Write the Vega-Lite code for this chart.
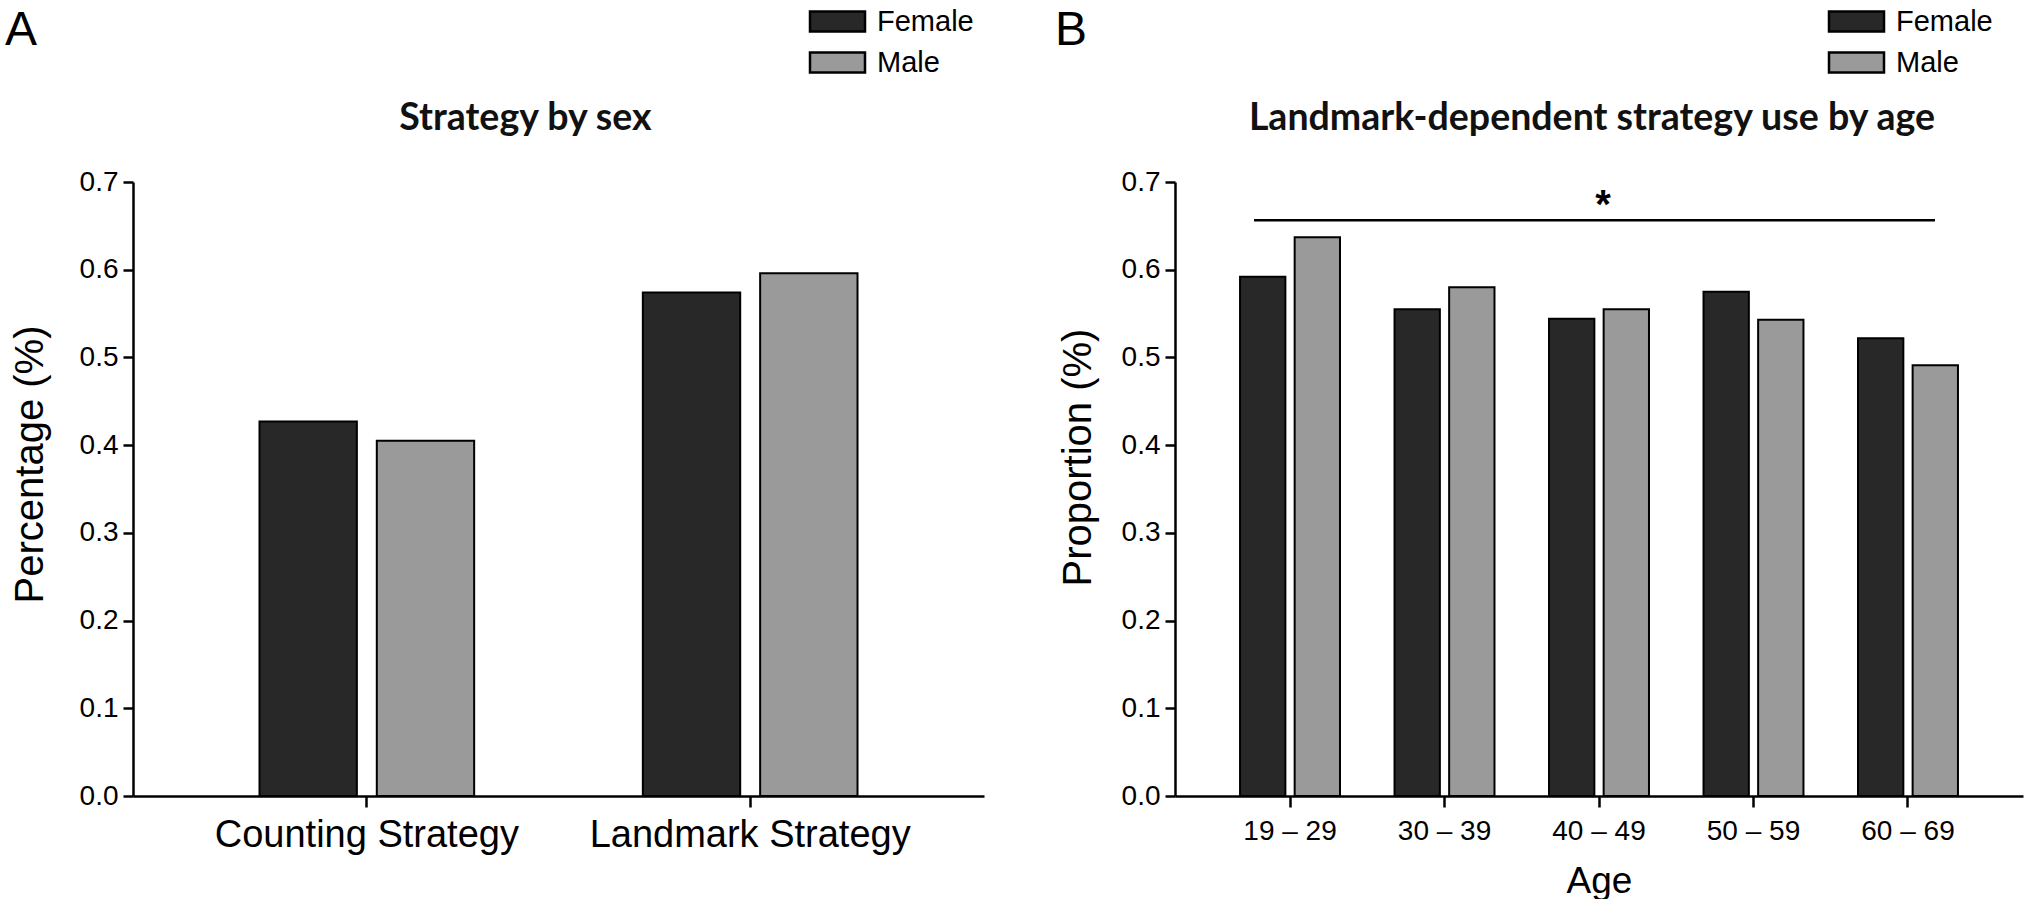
{
  "$schema": "https://vega.github.io/schema/vega-lite/v6.json",
  "padding": {"left": 5, "top": 7, "right": 6, "bottom": 0},
  "autosize": {"type": "pad"},
  "bounds": "flush",
  "spacing": 191,
  "background": "white",
  "config": {
    "view": {"stroke": null},
    "font": "Liberation Sans",
    "axis": {
      "grid": false,
      "domainColor": "black",
      "domainWidth": 2.5,
      "tickColor": "black",
      "tickWidth": 2.5,
      "labelColor": "black",
      "titleColor": "black",
      "labelFont": "Liberation Sans",
      "titleFont": "Liberation Sans",
      "titleFontWeight": "normal",
      "labelLimit": 0
    },
    "legend": {
      "symbolType": "M-2.75,-1L2.75,-1L2.75,1L-2.75,1Z",
      "symbolSize": 400,
      "symbolOffset": 13,
      "labelOffset": 25,
      "labelFont": "Liberation Sans",
      "labelFontSize": 29,
      "labelColor": "black",
      "labelLimit": 0,
      "titleFont": "Liberation Sans",
      "titleFontSize": 48,
      "titleFontWeight": "normal",
      "titleColor": "black",
      "titleBaseline": "top",
      "titleAnchor": "start",
      "titleLimit": 0,
      "symbolStrokeColor": "black",
      "symbolStrokeWidth": 2.5,
      "symbolOpacity": 1,
      "rowPadding": 10,
      "padding": 0,
      "direction": "vertical"
    },
    "title": {
      "font": "Lato",
      "fontSize": 37.5,
      "fontWeight": "bold",
      "color": "#111111",
      "anchor": "middle",
      "frame": "group",
      "baseline": "alphabetic",
      "offset": -130
    }
  },
  "resolve": {
    "scale": {"color": "independent", "x": "independent", "y": "independent", "xOffset": "independent"},
    "legend": {"color": "independent"}
  },
  "hconcat": [
    {
      "width": 851,
      "height": 614,
      "title": {"text": "Strategy by sex", "dx": -33},
      "data": {
        "values": [
          {"strategy": "Counting Strategy", "sex": "Female", "value": 0.427},
          {"strategy": "Counting Strategy", "sex": "Male", "value": 0.405},
          {"strategy": "Landmark Strategy", "sex": "Female", "value": 0.574},
          {"strategy": "Landmark Strategy", "sex": "Male", "value": 0.596}
        ]
      },
      "mark": {"type": "bar", "stroke": "black", "strokeWidth": 2},
      "encoding": {
        "x": {
          "field": "strategy",
          "type": "nominal",
          "title": null,
          "scale": {"domain": ["Counting Strategy", "Landmark Strategy"], "paddingInner": 0.44, "paddingOuter": 0.33},
          "axis": {"labelAngle": 0, "labelFontSize": 38, "tickSize": 11, "labelPadding": 9}
        },
        "xOffset": {
          "field": "sex",
          "type": "nominal",
          "scale": {"domain": ["Female", "Male"], "paddingInner": 0.17, "paddingOuter": 0}
        },
        "y": {
          "field": "value",
          "type": "quantitative",
          "title": "Percentage (%)",
          "scale": {"domain": [0, 0.7], "nice": false},
          "axis": {
            "values": [0, 0.1, 0.2, 0.3, 0.4, 0.5, 0.6, 0.7],
            "format": ".1f",
            "labelFontSize": 28,
            "tickSize": 10,
            "labelPadding": 5,
            "titleFontSize": 40,
            "titleAngle": -90,
            "titleX": -91,
            "titleY": 282,
            "titleAlign": "center",
            "titleBaseline": "alphabetic"
          }
        },
        "color": {
          "field": "sex",
          "type": "nominal",
          "scale": {"domain": ["Female", "Male"], "range": ["#282828", "#9a9a9a"]},
          "legend": {
            "title": "A",
            "orient": "none",
            "legendX": -128,
            "legendY": -175,
            "titleOrient": "left",
            "titlePadding": 772
          }
        }
      }
    },
    {
      "width": 848,
      "height": 614,
      "title": {"text": "Landmark-dependent strategy use by age", "dx": -7},
      "layer": [
        {
          "data": {
            "values": [
              {"age": "19 – 29", "sex": "Female", "value": 0.592},
              {"age": "19 – 29", "sex": "Male", "value": 0.637},
              {"age": "30 – 39", "sex": "Female", "value": 0.555},
              {"age": "30 – 39", "sex": "Male", "value": 0.58},
              {"age": "40 – 49", "sex": "Female", "value": 0.544},
              {"age": "40 – 49", "sex": "Male", "value": 0.555},
              {"age": "50 – 59", "sex": "Female", "value": 0.575},
              {"age": "50 – 59", "sex": "Male", "value": 0.543},
              {"age": "60 – 69", "sex": "Female", "value": 0.522},
              {"age": "60 – 69", "sex": "Male", "value": 0.491}
            ]
          },
          "mark": {"type": "bar", "stroke": "black", "strokeWidth": 2},
          "encoding": {
            "x": {
              "field": "age",
              "type": "nominal",
              "title": "Age",
              "scale": {"domain": ["19 – 29", "30 – 39", "40 – 49", "50 – 59", "60 – 69"], "paddingInner": 0.353, "paddingOuter": 0.421},
              "axis": {
                "labelAngle": 0,
                "labelFontSize": 28,
                "tickSize": 11,
                "labelPadding": 10,
                "titleFontSize": 37,
                "titleY": 96,
                "titleBaseline": "alphabetic"
              }
            },
            "xOffset": {
              "field": "sex",
              "type": "nominal",
              "scale": {"domain": ["Female", "Male"], "paddingInner": 0.17, "paddingOuter": 0}
            },
            "y": {
              "field": "value",
              "type": "quantitative",
              "title": "Proportion (%)",
              "scale": {"domain": [0, 0.7], "nice": false},
              "axis": {
                "values": [0, 0.1, 0.2, 0.3, 0.4, 0.5, 0.6, 0.7],
                "format": ".1f",
                "labelFontSize": 28,
                "tickSize": 10,
                "labelPadding": 5,
                "titleFontSize": 40,
                "titleAngle": -90,
                "titleX": -85,
                "titleY": 275,
                "titleAlign": "center",
                "titleBaseline": "alphabetic"
              }
            },
            "color": {
              "field": "sex",
              "type": "nominal",
              "scale": {"domain": ["Female", "Male"], "range": ["#282828", "#9a9a9a"]},
              "legend": {
                "title": "B",
                "orient": "none",
                "legendX": -120,
                "legendY": -175,
                "titleOrient": "left",
                "titlePadding": 741
              }
            }
          }
        },
        {
          "data": {"values": [{"from": "19 – 29", "to": "60 – 69", "mid": "40 – 49", "level": 0.6564, "label": "*"}]},
          "mark": {"type": "rule", "color": "black", "strokeWidth": 2.5},
          "encoding": {
            "x": {"field": "from", "type": "nominal", "title": "Age", "bandPosition": 0.14},
            "x2": {"field": "to", "bandPosition": 0.77},
            "y": {"field": "level", "type": "quantitative", "title": "Proportion (%)"}
          }
        },
        {
          "data": {"values": [{"from": "19 – 29", "to": "60 – 69", "mid": "40 – 49", "level": 0.6564, "label": "*"}]},
          "mark": {"type": "text", "font": "Liberation Sans", "fontSize": 40, "fontWeight": "bold", "baseline": "alphabetic", "align": "center", "dy": -2, "dx": 4, "color": "black"},
          "encoding": {
            "x": {"field": "mid", "type": "nominal", "title": "Age"},
            "y": {"field": "level", "type": "quantitative", "title": "Proportion (%)"},
            "text": {"field": "label", "type": "nominal"}
          }
        }
      ]
    }
  ]
}
